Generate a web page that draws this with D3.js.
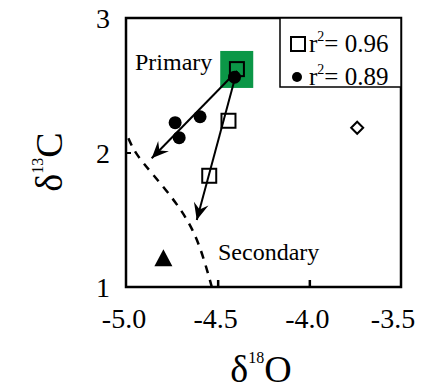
<!DOCTYPE html>
<html>
<head>
<meta charset="utf-8">
<script src="https://cdn.jsdelivr.net/npm/d3@7"></script>
<style>
  body { margin: 0; font-family: serif; }
  svg { font-family: serif; }
</style>
</head>
<body>
<script>
// data (x = d18O, y = d13C)
var xTicks = [-5.0, -4.5, -4.0, -3.5];
var yTicks = [1, 2, 3];
var squares = [[-4.395, 2.62], [-4.441, 2.236], [-4.546, 1.827]];
var dots = [[-4.408, 2.56], [-4.732, 2.222], [-4.596, 2.266], [-4.710, 2.11]];
var diamonds = [[-3.739, 2.184]];
var triangles = [[-4.796, 1.213]];
var primaryBox = [[-4.486, 2.755], [-4.306, 2.48]];
var arrows = [
  [[-4.395, 2.606], [-4.860, 1.957]],
  [[-4.395, 2.606], [-4.614, 1.498]]
];
var boundary = [[-4.987, 2.106], [-4.951, 1.996], [-4.860, 1.848], [-4.723, 1.625],
  [-4.632, 1.424], [-4.578, 1.225], [-4.532, 1.0]];
var legendItems = [{shape: 'square', r2: '0.96'}, {shape: 'dot', r2: '0.89'}];

var width = 422, height = 389;
var pLeft = 126, pRight = 401, pTop = 18, pBottom = 287;

var svg = d3.select('body').append('svg')
  .attr('width', width)
  .attr('height', height)
  .style('font-family', 'serif');

var x = d3.scaleLinear().domain([-5.0, -3.5]).range([pLeft, pRight]);
var y = d3.scaleLinear().domain([1, 3]).range([pBottom, pTop]);

// green primary box
svg.append('rect')
  .attr('x', x(primaryBox[0][0]))
  .attr('y', y(primaryBox[0][1]))
  .attr('width', x(primaryBox[1][0]) - x(primaryBox[0][0]))
  .attr('height', y(primaryBox[1][1]) - y(primaryBox[0][1]))
  .attr('fill', '#0b9747');

// inward ticks
var xAxis = d3.axisBottom(x).tickValues(xTicks.slice(1, 3)).tickSize(-7).tickFormat('');
var gx = svg.append('g').attr('transform', 'translate(0,' + pBottom + ')').call(xAxis);
gx.attr('font-family', null);
gx.select('.domain').remove();
gx.selectAll('text').remove();
gx.selectAll('line').attr('stroke', '#000').attr('stroke-width', 2.5);

var yAxis = d3.axisLeft(y).tickValues([yTicks[1]]).tickSize(-5).tickFormat('');
var gy = svg.append('g').attr('transform', 'translate(' + pLeft + ',0)').call(yAxis);
gy.attr('font-family', null);
gy.select('.domain').remove();
gy.selectAll('text').remove();
gy.selectAll('line').attr('stroke', '#000').attr('stroke-width', 2);

// dashed boundary
svg.append('path')
  .datum(boundary)
  .attr('d', d3.line().x(function(d){ return x(d[0]); }).y(function(d){ return y(d[1]); })
    .curve(d3.curveBasis))
  .attr('fill', 'none')
  .attr('stroke', '#000')
  .attr('stroke-width', 2.5)
  .attr('stroke-dasharray', '8,7');

// arrows with drawn heads
svg.selectAll('line.arrow').data(arrows).enter().append('line')
  .attr('class', 'arrow')
  .attr('x1', function(d){ return x(d[0][0]); })
  .attr('y1', function(d){ return y(d[0][1]); })
  .attr('x2', function(d){ return x(d[1][0]); })
  .attr('y2', function(d){ return y(d[1][1]); })
  .attr('stroke', '#000')
  .attr('stroke-width', 2);
svg.selectAll('path.head').data(arrows).enter().append('path')
  .attr('class', 'head')
  .attr('transform', function(d){
    var a = Math.atan2(y(d[1][1]) - y(d[0][1]), x(d[1][0]) - x(d[0][0])) * 180 / Math.PI;
    return 'translate(' + x(d[1][0]) + ',' + y(d[1][1]) + ') rotate(' + a + ')';
  })
  .attr('d', 'M0,0 L-17,-7.5 L-11,0 L-17,7.5 Z')
  .attr('fill', '#000');

// points
svg.selectAll('rect.sq').data(squares).enter().append('rect')
  .attr('class', 'sq')
  .attr('x', function(d){ return x(d[0]) - 7; })
  .attr('y', function(d){ return y(d[1]) - 7; })
  .attr('width', 14).attr('height', 14)
  .attr('fill', 'none')
  .attr('stroke', '#000')
  .attr('stroke-width', 2);

svg.selectAll('circle.dot').data(dots).enter().append('circle')
  .attr('class', 'dot')
  .attr('cx', function(d){ return x(d[0]); })
  .attr('cy', function(d){ return y(d[1]); })
  .attr('r', 6.5)
  .attr('fill', '#000');

svg.selectAll('path.dia').data(diamonds).enter().append('path')
  .attr('class', 'dia')
  .attr('transform', function(d){ return 'translate(' + x(d[0]) + ',' + y(d[1]) + ')'; })
  .attr('d', 'M0,-6 L6,0 L0,6 L-6,0 Z')
  .attr('fill', 'none')
  .attr('stroke', '#000')
  .attr('stroke-width', 2);

svg.selectAll('path.tri').data(triangles).enter().append('path')
  .attr('class', 'tri')
  .attr('transform', function(d){ return 'translate(' + x(d[0]) + ',' + y(d[1]) + ')'; })
  .attr('d', 'M0,-9 L9,8 L-9,8 Z')
  .attr('fill', '#000');

// frame
svg.append('rect')
  .attr('x', pLeft).attr('y', pTop)
  .attr('width', pRight - pLeft).attr('height', pBottom - pTop)
  .attr('fill', 'none')
  .attr('stroke', '#000')
  .attr('stroke-width', 2.5);

// legend box and symbols
svg.append('rect')
  .attr('x', 280).attr('y', pTop)
  .attr('width', pRight - 280).attr('height', 69)
  .attr('fill', '#fff')
  .attr('stroke', '#000')
  .attr('stroke-width', 1.5);
legendItems.forEach(function(item, i) {
  var cy = 44 + i * 33;
  if (item.shape === 'square') {
    svg.append('rect').attr('x', 291).attr('y', cy - 7).attr('width', 14).attr('height', 14)
      .attr('fill', 'none').attr('stroke', '#000').attr('stroke-width', 2);
  } else {
    svg.append('circle').attr('cx', 297).attr('cy', cy).attr('r', 5).attr('fill', '#000');
  }
});

// all texts
var labels = [];
xTicks.forEach(function(v, i){
  labels.push({t: v.toFixed(1), x: x(v) - (i === xTicks.length - 1 ? 8 : 2), y: 328, s: 28, a: 'middle'});
});
yTicks.forEach(function(v){
  labels.push({t: String(v), x: pLeft - 16, y: y(v) + 10, s: 28, a: 'end'});
});
labels.push({t: 'Primary', x: 135, y: 70, s: 24, a: 'start'});
labels.push({t: 'Secondary', x: 218, y: 260, s: 24, a: 'start'});

svg.selectAll('text.lbl').data(labels).enter().append('text')
  .attr('class', 'lbl')
  .attr('x', function(d){ return d.x; })
  .attr('y', function(d){ return d.y; })
  .attr('font-size', function(d){ return d.s; })
  .attr('text-anchor', function(d){ return d.a; })
  .style('font-family', 'serif')
  .text(function(d){ return d.t; });

// legend texts
svg.selectAll('text.leg').data(legendItems).enter().append('text')
  .attr('class', 'leg')
  .attr('x', 309)
  .attr('y', function(d, i){ return 52 + i * 33; })
  .attr('font-size', 25)
  .style('font-family', 'serif')
  .each(function(d){
    var t = d3.select(this);
    t.append('tspan').text('r');
    t.append('tspan').attr('font-size', 14).attr('dy', -11).text('2');
    t.append('tspan').attr('dy', 11).text('= ' + d.r2);
  });

// axis titles
var titles = [
  {base: 'δ', sup: '18', tail: 'O', tr: 'translate(261,382)'},
  {base: 'δ', sup: '13', tail: 'C', tr: 'translate(62,162) rotate(-90)'}
];
svg.selectAll('text.ttl').data(titles).enter().append('text')
  .attr('class', 'ttl')
  .attr('transform', function(d){ return d.tr; })
  .attr('text-anchor', 'middle')
  .attr('font-size', 38)
  .style('font-family', 'serif')
  .each(function(d){
    var t = d3.select(this);
    t.append('tspan').text(d.base);
    t.append('tspan').attr('font-size', 16).attr('dy', -19).text(d.sup);
    t.append('tspan').attr('dy', 19).text(d.tail);
  });
</script>
</body>
</html>
